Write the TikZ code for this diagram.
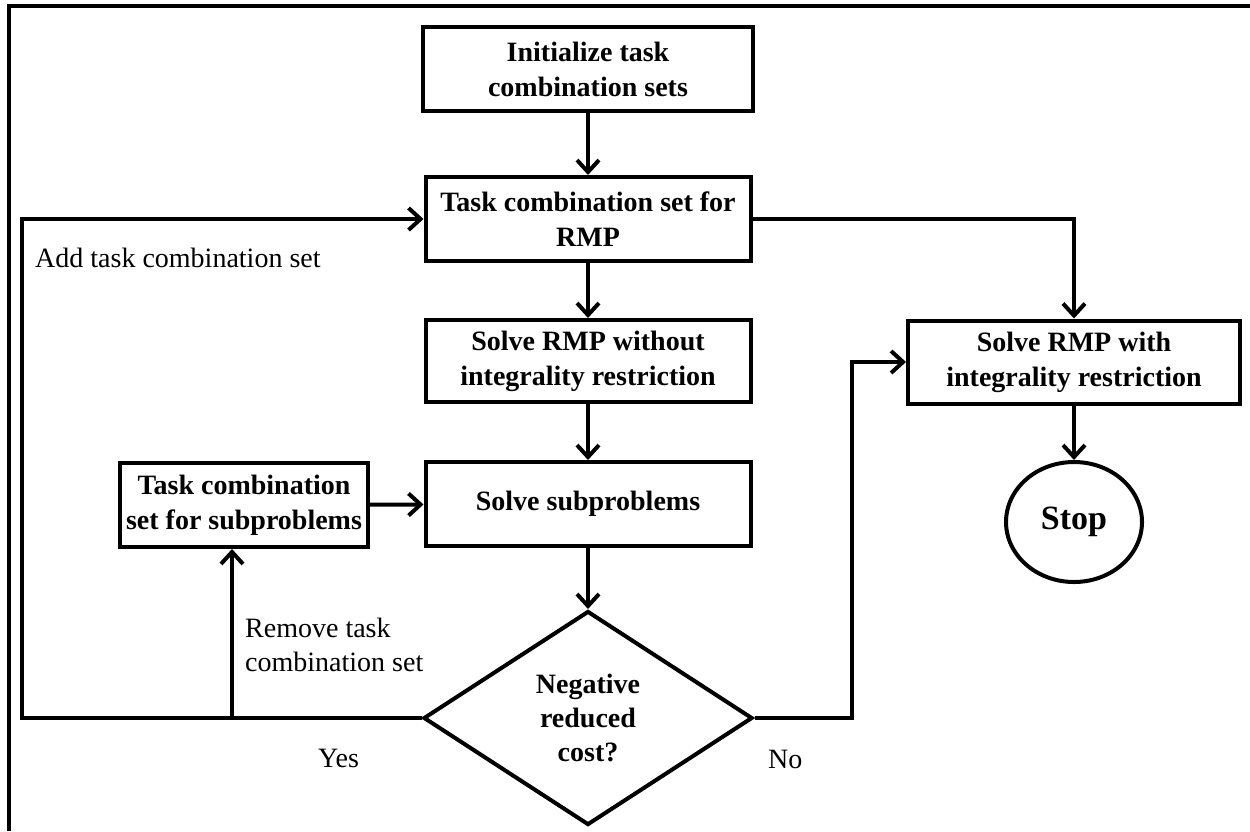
\documentclass[tikz,border=0pt]{standalone}
\usepackage{fontspec}
\setmainfont{Liberation Serif}
\usetikzlibrary{arrows.meta,shapes.geometric}
\begin{document}
\begin{tikzpicture}[x=1pt,y=-1pt,
  box/.style={draw,line width=4pt,minimum width=325pt,minimum height=84pt,inner sep=0pt,align=center,font=\fontsize{28}{35}\selectfont\bfseries},
  conn/.style={line width=4pt,-{Straight Barb[length=12pt,width=22pt]}},
  lbl/.style={font=\fontsize{28}{34}\selectfont,inner sep=0pt,align=left}]
\useasboundingbox (0,0) rectangle (1250,831);
\draw[line width=4pt] (9,831) -- (9,6) -- (1250,6);
\node[box,minimum width=330pt] (init) at (588,69) {Initialize task\\combination sets};
\node[box] (rmp) at (588,219) {Task combination set for\\RMP};
\node[box,minimum height=82pt] (lp) at (588,361) {Solve RMP without\\integrality restriction};
\node[box] (sub) at (588,504) {Solve subproblems};
\node[box,minimum width=248pt] (tcs) at (244,505) {Task combination\\set for subproblems};
\node[diamond,draw,line width=4pt,minimum width=329pt,minimum height=214pt,inner sep=0pt,aspect=1.5,align=center,font=\fontsize{28}{34}\selectfont\bfseries] (neg) at (588,718) {Negative\\reduced\\cost?};
\node[box,minimum width=332pt,minimum height=83pt] (ip) at (1074,362) {Solve RMP with\\integrality restriction};
\node[ellipse,draw,line width=4pt,minimum width=136pt,minimum height=120pt,inner sep=0pt,font=\fontsize{34}{40}\selectfont\bfseries] (stop) at (1074,522) {Stop};
\coordinate (loopL) at (22,718);
\coordinate (jn) at (232,718);
\coordinate (rjn) at (852,718);
\draw[conn] (init) -- (rmp);
\draw[conn] (rmp) -- (lp);
\draw[conn] (lp) -- (sub);
\draw[conn] (sub) -- (neg);
\draw[conn] (tcs) -- (sub);
\draw[conn] (rmp.east) -| (ip.north);
\draw[conn] (ip) -- (stop);
\draw[conn] (neg.west) -- (loopL) |- (rmp.west);
\draw[conn] (jn) -- (jn |- tcs.south);
\draw[conn] (neg.east) -- (rjn) |- (ip.west);
\node[lbl,anchor=base west] (add) at (35,267) {Add task combination set};
\node[lbl,anchor=north west] (rem) at (245,618) {Remove task\\combination set};
\node[lbl,anchor=base west] (yes) at (318,767) {Yes};
\node[lbl,anchor=base west] (no) at (768,768) {No};
\end{tikzpicture}
\end{document}
